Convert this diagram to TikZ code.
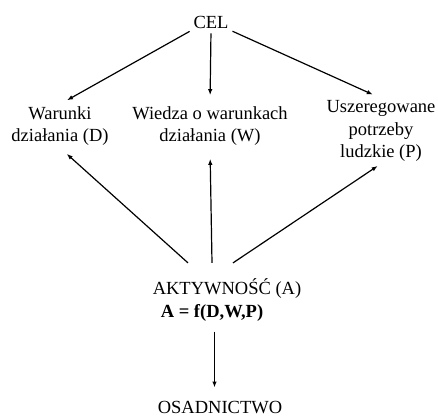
\documentclass[tikz,border=0pt]{standalone}
\usepackage{fontspec}
\setmainfont{Liberation Serif}
\usetikzlibrary{arrows.meta,positioning,calc}

\begin{document}
\begin{tikzpicture}[x=1pt,y=-1pt,
    lbl/.style={font=\fontsize{18.5}{22.5}\selectfont, align=center, inner sep=2pt},
    arr/.style={-{Latex[length=6pt,width=4.5pt]}, line width=1.2pt}]
    \useasboundingbox (0,0) rectangle (438,419);

    % Goal and the three factors
    \node[lbl] (cel) at (211,22) {CEL};
    \node[lbl] (d) at (60,126) {Warunki\\działania (D)};
    \node[lbl] (w) at (210,126) {Wiedza o warunkach\\działania (W)};
    \node[lbl] (p) at (381,131) {Uszeregowane\\potrzeby\\ludzkie (P)};

    % Activity and settlement
    \node[lbl] (a) at (227,289) {AKTYWNOŚĆ (A)};
    \node[lbl, font=\fontsize{18.5}{22.5}\selectfont\bfseries] (f) at (212,313) {A = f(D,W,P)};
    \node[lbl] (osad) at (220,408) {OSADNICTWO};

    % Arrows from the goal
    \draw[arr, shorten <=2pt, shorten >=8pt] (cel.south west) -- (d.north);
    \draw[arr, shorten <=3pt, shorten >=9pt] (cel.south) -- (w.north);
    \draw[arr, shorten <=2pt, shorten >=9pt] (cel.south east) -- (p.north);

    % Arrows from the activity
    \draw[arr, shorten >=9pt] ([shift={(-39,-14)}]a.north) -- (d.south);
    \draw[arr, shorten >=11pt] ([shift={(-15,-14)}]a.north) -- (w.south);
    \draw[arr, shorten >=4pt] ([shift={(6,-14)}]a.north) -- (p.south);

    \draw[arr, shorten <=8pt, shorten >=12pt] ([xshift=2.5pt]f.south) -- ([xshift=2.5pt]f.south |- osad.north);
\end{tikzpicture}
\end{document}
